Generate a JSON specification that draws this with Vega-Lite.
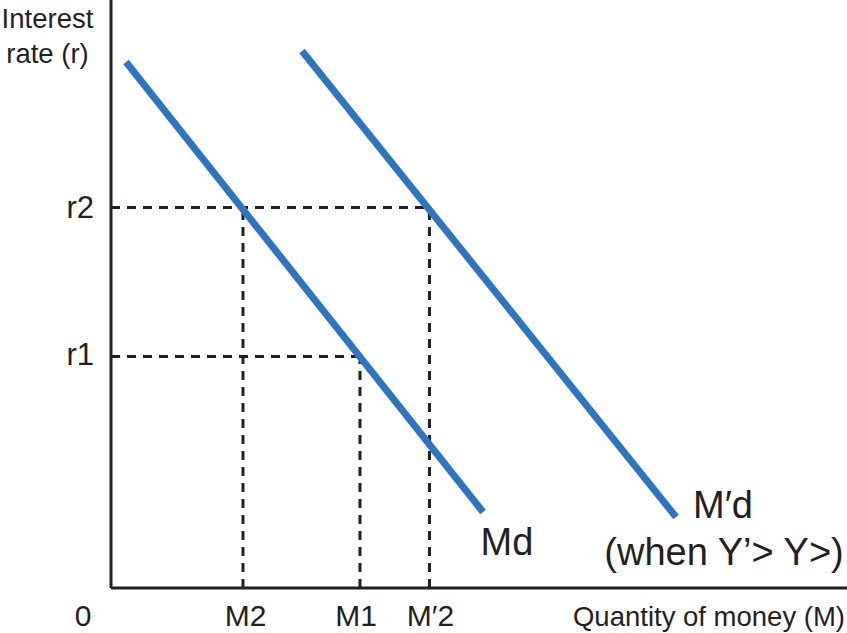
{
  "$schema": "https://vega.github.io/schema/vega-lite/v6.json",
  "width": 736,
  "height": 588,
  "autosize": {"type": "none"},
  "padding": {"left": 111, "top": 0, "right": 0, "bottom": 45},
  "background": "white",
  "config": {"view": {"stroke": null}, "font": "Liberation Sans"},
  "datasets": {
    "curves": [
      {"series": "Md", "q": 2.04, "r": 89.46},
      {"series": "Md", "q": 50.54, "r": 12.93},
      {"series": "M′d", "q": 25.95, "r": 91.33},
      {"series": "M′d", "q": 76.77, "r": 12.07}
    ],
    "guides": [
      {"name": "r2 level", "q": 0, "r": 64.71, "q2": 43.27, "r2": 64.71},
      {"name": "r1 level", "q": 0, "r": 39.37, "q2": 33.83, "r2": 39.37},
      {"name": "M2", "q": 17.93, "r": 0, "q2": 17.93, "r2": 64.71},
      {"name": "M1", "q": 33.83, "r": 0, "q2": 33.83, "r2": 39.37},
      {"name": "M′2", "q": 43.27, "r": 0, "q2": 43.27, "r2": 64.71}
    ],
    "axes": [
      {"name": "x axis", "q": 0, "r": 0, "q2": 100, "r2": 0},
      {"name": "y axis", "q": 0, "r": 0, "q2": 0, "r2": 100}
    ],
    "ticklabels": [
      {"label": "0", "q": -3.8, "r": -6.4},
      {"label": "M2", "q": 18.3, "r": -6.4},
      {"label": "M1", "q": 33.3, "r": -6.4},
      {"label": "M′2", "q": 43.4, "r": -6.4}
    ],
    "rlabels": [
      {"label": "r2", "q": -2.31, "r": 62.93},
      {"label": "r1", "q": -2.31, "r": 37.93}
    ],
    "ytitle": [
      {"label": "Interest", "q": -8.63, "r": 95.24},
      {"label": "rate (r)", "q": -8.63, "r": 89.29}
    ],
    "xtitle": [
      {"label": "Quantity of money (M)", "q": 99.73, "r": -6.4}
    ],
    "curvelabels": [
      {"label": "Md", "q": 53.8, "r": 5.61},
      {"label": "M′d", "q": 83.15, "r": 11.9},
      {"label": "(when Y’> Y>)", "q": 83.29, "r": 3.91}
    ]
  },
  "encoding": {
    "x": {"field": "q", "type": "quantitative", "scale": {"domain": [0, 100], "nice": false, "zero": false}, "axis": null},
    "y": {"field": "r", "type": "quantitative", "scale": {"domain": [0, 100], "nice": false, "zero": false}, "axis": null}
  },
  "layer": [
    {
      "data": {"name": "guides"},
      "mark": {"type": "rule", "strokeWidth": 3, "color": "#231f20", "strokeDash": [9, 7]},
      "encoding": {"x2": {"field": "q2"}, "y2": {"field": "r2"}}
    },
    {
      "data": {"name": "axes"},
      "mark": {"type": "rule", "strokeWidth": 3, "color": "#231f20"},
      "encoding": {"x2": {"field": "q2"}, "y2": {"field": "r2"}}
    },
    {
      "data": {"name": "curves"},
      "mark": {"type": "line", "strokeWidth": 7, "color": "#2f74c0", "strokeCap": "butt"},
      "encoding": {"detail": {"field": "series", "type": "nominal"}}
    },
    {
      "data": {"name": "ticklabels"},
      "mark": {"type": "text", "fontSize": 30, "align": "center", "baseline": "alphabetic", "color": "#231f20"},
      "encoding": {"text": {"field": "label"}}
    },
    {
      "data": {"name": "rlabels"},
      "mark": {"type": "text", "fontSize": 31, "align": "right", "baseline": "alphabetic", "color": "#231f20"},
      "encoding": {"text": {"field": "label"}}
    },
    {
      "data": {"name": "ytitle"},
      "mark": {"type": "text", "fontSize": 27.5, "align": "center", "baseline": "alphabetic", "color": "#231f20"},
      "encoding": {"text": {"field": "label"}}
    },
    {
      "data": {"name": "xtitle"},
      "mark": {"type": "text", "fontSize": 27.5, "align": "right", "baseline": "alphabetic", "color": "#231f20"},
      "encoding": {"text": {"field": "label"}}
    },
    {
      "data": {"name": "curvelabels"},
      "mark": {"type": "text", "fontSize": 38, "align": "center", "baseline": "alphabetic", "color": "#231f20"},
      "encoding": {"text": {"field": "label"}}
    }
  ]
}
